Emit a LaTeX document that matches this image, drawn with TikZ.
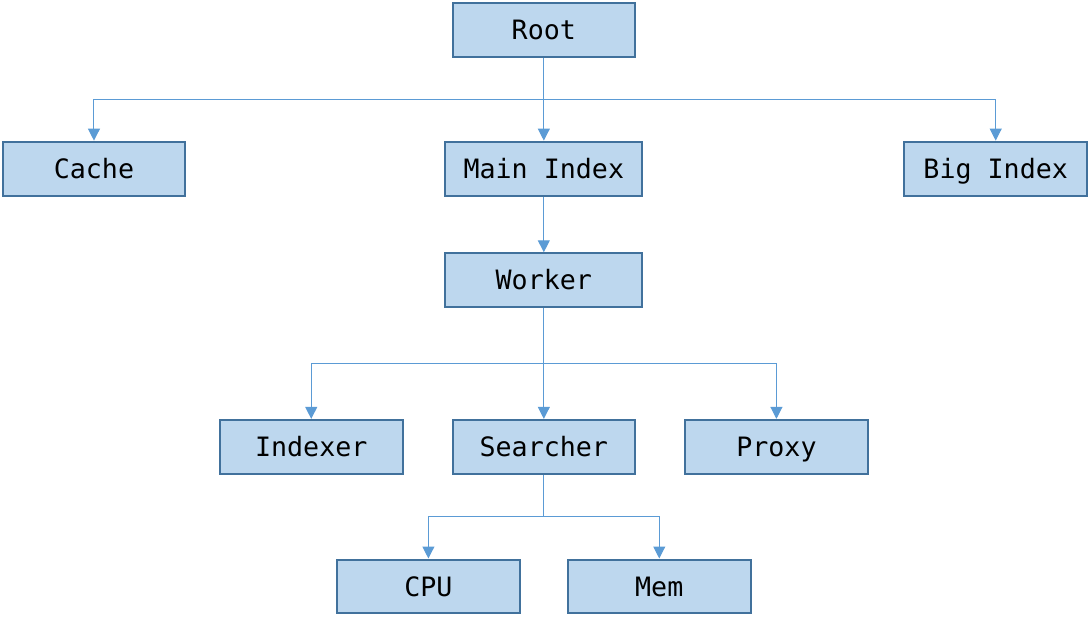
\documentclass[tikz,border=0pt]{standalone}
\usepackage{fontspec}
\setmonofont{DejaVu Sans Mono}
\usepackage{tikz}
\usetikzlibrary{positioning,arrows.meta,calc}
\definecolor{boxfill}{HTML}{BDD7EE}
\definecolor{boxline}{HTML}{41719C}
\definecolor{linkcol}{HTML}{5B9BD5}

\begin{document}
\begin{tikzpicture}[node distance=62pt and 193.5pt,
    box/.style={draw=boxline, fill=boxfill, line width=1.5pt, minimum width=137pt, minimum height=40.5pt, font=\ttfamily\fontsize{20}{22}\selectfont, inner sep=0pt, text height=17pt, text depth=2.5pt},
    wide/.style={box, minimum width=148pt},
    link/.style={draw=linkcol, line width=0.8pt, -{Triangle[length=9pt,width=9pt]}}]

    \node[box]                                   (root)     {Root};
    \node[wide, below=of root]                   (main)     {Main Index};
    \node[box, left=of main]                     (cache)    {Cache};
    \node[box, right=195pt of main]              (big)      {Big Index};
    \node[wide, below=41.75pt of main]           (worker)   {Worker};
    \node[box, below=83pt of worker]             (searcher) {Searcher};
    \node[box, left=36pt of searcher]            (indexer)  {Indexer};
    \node[box, right=36pt of searcher]           (proxy)    {Proxy};
    \node[box, below=62.75pt of searcher, xshift=-86.6pt] (cpu) {CPU};
    \node[box, below=62.75pt of searcher, xshift=86.6pt]  (mem) {Mem};

    \useasboundingbox ($(root.north)+(-408pt,1.5pt)$) rectangle ($(root.north)+(408pt,-464.25pt)$);

    \coordinate (rootsplit)     at ($(root.south)!0.5!(main.north)$);
    \coordinate (workersplit)   at ($(worker.south)!0.5!(searcher.north)$);
    \coordinate (searchersplit) at ($(searcher.south)!0.5!(searcher.south|-cpu.north)$);

    \draw[link] (root.south) -- (main.north);
    \draw[link] (root.south) -- (rootsplit) -| (cache.north);
    \draw[link] (root.south) -- (rootsplit) -| (big.north);
    \draw[link] (main) -- (worker);

    \draw[link] (worker.south) -- (searcher.north);
    \draw[link] (worker.south) -- (workersplit) -| (indexer.north);
    \draw[link] (worker.south) -- (workersplit) -| (proxy.north);

    \draw[link] (searcher.south) -- (searchersplit) -| (cpu.north);
    \draw[link] (searcher.south) -- (searchersplit) -| (mem.north);

\end{tikzpicture}
\end{document}
